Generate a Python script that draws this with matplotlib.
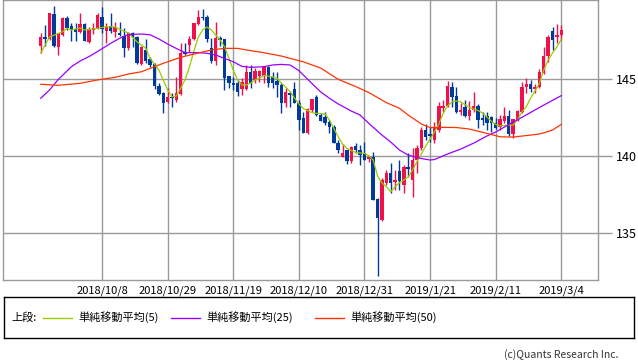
import matplotlib.pyplot as plt
import pandas as pd

plt.rcParams['font.family'] = ['Noto Sans CJK JP', 'DejaVu Sans']

# Daily candles (weekday slots from 2018/9/18 to 2019/3/4)
opens = [147.16, 147.75, 147.58, 149.22, 147.08, 147.86, 148.98, 148.44, 148.23, 148.07,
         148.57, 147.42, 148.18, 148.29, 149.01, 148.14, 148.44, 148.07, 148.01, 147.79,
         146.99, 147.97, 147.75, 145.97, 146.88, 146.28, 145.97, 144.55, 144.07, 143.53,
         143.85, 143.64, 144.03, 146.77, 147.21, 147.58, 148.57, 149.05, 149.01, 146.99,
         146.17, 147.66, 147.60, 145.19, 144.74, 144.74, 144.35, 144.35, 145.45, 144.94,
         145.19, 145.19, 145.78, 145.13, 144.87, 144.61, 143.44, 144.09, 144.35, 143.44,
         142.47, 141.49, 142.99, 143.83, 142.66, 142.53, 142.21, 141.88, 140.84, 139.94,
         140.39, 139.68, 140.65, 140.39, 140.19, 139.81, 139.94, 137.21, 135.84, 138.25,
         138.90, 138.31, 139.03, 138.12, 139.29, 138.44, 139.74, 140.52, 141.69, 141.43,
         141.04, 141.69, 143.12, 143.25, 144.48, 143.90, 142.86, 143.18, 142.60, 142.99,
         143.25, 142.47, 142.60, 142.53, 142.14, 141.88, 142.27, 142.60, 141.43, 142.34,
         142.86, 144.48, 144.68, 144.35, 144.48, 145.39, 146.49, 148.12, 147.73, 147.86]
highs = [147.99, 148.51, 149.31, 149.74, 148.01, 149.05, 149.09, 148.66, 148.62, 149.27,
         148.62, 148.36, 148.66, 149.27, 149.66, 148.62, 149.27, 148.72, 148.72, 148.29,
         148.07, 148.07, 147.79, 147.14, 147.58, 146.45, 146.02, 144.76, 144.18, 144.40,
         144.07, 145.15, 147.32, 147.32, 147.79, 148.66, 149.48, 149.53, 149.16, 147.64,
         148.70, 147.79, 147.60, 145.19, 145.13, 144.94, 145.06, 145.91, 145.91, 145.71,
         145.58, 145.84, 145.84, 145.45, 145.45, 144.74, 144.42, 144.22, 144.81, 143.64,
         142.86, 143.12, 143.70, 143.96, 142.79, 142.86, 142.34, 142.01, 141.04, 140.78,
         140.39, 140.65, 140.84, 140.71, 140.91, 140.00, 140.26, 137.27, 138.57, 139.09,
         139.55, 139.09, 139.74, 139.42, 140.19, 140.52, 140.71, 141.88, 142.08, 141.88,
         142.21, 143.51, 143.64, 144.87, 144.81, 144.48, 143.44, 143.64, 143.57, 144.16,
         143.38, 142.86, 142.86, 142.60, 142.47, 142.66, 143.18, 142.99, 142.40, 142.99,
         144.81, 145.06, 144.94, 144.68, 145.65, 147.08, 147.86, 148.38, 148.57, 148.51]
lows = [146.69, 147.14, 147.53, 147.08, 146.56, 147.79, 148.18, 147.49, 147.49, 148.01,
        147.49, 147.36, 147.90, 148.25, 147.97, 147.34, 147.97, 147.75, 147.79, 146.45,
        146.88, 147.10, 145.97, 145.91, 146.02, 145.80, 144.33, 143.96, 142.77, 143.42,
        143.16, 143.53, 143.96, 146.56, 146.77, 147.53, 148.51, 148.83, 147.42, 146.02,
        145.91, 147.14, 144.29, 144.42, 144.29, 143.90, 143.96, 144.29, 144.42, 144.74,
        144.81, 144.74, 144.48, 144.42, 143.83, 142.79, 143.18, 143.18, 143.44, 141.69,
        141.49, 141.43, 142.86, 142.60, 142.27, 142.01, 141.49, 140.84, 140.19, 139.94,
        139.48, 139.55, 140.19, 139.42, 139.74, 139.61, 137.14, 132.21, 135.78, 138.12,
        137.60, 137.79, 137.79, 137.60, 138.64, 137.34, 138.90, 140.39, 141.04, 140.91,
        140.84, 141.56, 142.86, 143.18, 143.18, 142.79, 142.66, 142.53, 142.34, 142.86,
        141.82, 142.01, 141.69, 141.56, 141.75, 141.69, 142.14, 141.30, 141.17, 142.27,
        142.79, 144.09, 144.16, 144.09, 144.42, 145.32, 146.10, 146.88, 147.34, 147.53]
closes = [147.75, 147.58, 149.27, 147.16, 147.99, 148.98, 148.33, 148.18, 148.07, 148.55,
          147.49, 148.23, 148.29, 149.16, 148.23, 148.40, 148.14, 148.40, 147.86, 146.99,
          148.01, 147.75, 146.02, 147.10, 146.19, 145.91, 144.55, 144.03, 143.46, 143.81,
          143.75, 144.11, 146.67, 146.62, 147.58, 148.62, 149.05, 148.94, 147.58, 146.17,
          147.66, 147.53, 145.06, 144.74, 144.61, 144.16, 144.81, 145.45, 144.74, 145.52,
          145.52, 145.78, 144.74, 144.74, 144.61, 143.44, 144.16, 143.96, 143.44, 142.34,
          141.49, 143.05, 143.70, 142.66, 142.27, 142.14, 141.88, 140.84, 140.39, 140.19,
          139.68, 140.58, 140.39, 140.06, 139.74, 139.94, 137.14, 135.97, 138.44, 138.90,
          138.25, 138.44, 138.38, 139.29, 139.16, 139.74, 140.52, 141.69, 141.23, 141.30,
          141.88, 143.25, 143.25, 144.55, 143.83, 142.86, 142.99, 142.60, 142.99, 143.25,
          142.34, 142.34, 142.14, 142.14, 141.82, 142.40, 142.60, 141.43, 142.40, 142.92,
          144.48, 144.68, 144.35, 144.48, 145.45, 146.49, 147.73, 147.53, 147.86, 148.18]

# Moving averages (slot index, value)
ma5_idx = [0, 2, 5, 6, 7, 9, 10, 13, 15, 17, 18, 20, 22, 24, 25, 27, 28, 29, 30, 31,
           32, 33, 34, 35, 36, 37, 38, 39, 40, 41, 42, 43, 44, 45, 46, 47, 48, 49, 50, 51,
           52, 53, 54, 55, 56, 57, 58, 59, 60, 61, 62, 63, 65, 66, 67, 68, 69, 70, 71, 72,
           74, 75, 76, 77, 78, 79, 80, 81, 82, 84, 85, 86, 87, 88, 89, 90, 91, 92, 93, 94,
           95, 96, 97, 98, 99, 100, 101, 102, 103, 104, 105, 106, 107, 108, 109, 110, 111,
           112, 113, 114, 115, 116, 117, 118, 119]
ma5_val = [146.69, 147.73, 148.07, 148.29, 148.18, 148.31, 148.18, 148.29, 148.40, 148.38,
           148.23, 147.99, 147.42, 146.99, 146.34, 145.58, 144.94, 144.29, 143.85, 143.90,
           144.42, 144.95, 145.80, 146.80, 147.71, 148.18, 148.38, 148.18, 147.86, 147.53,
           147.10, 146.36, 145.58, 144.94, 144.61, 144.61, 144.74, 144.94, 145.05, 145.23,
           145.19, 145.13, 145.05, 144.74, 144.48, 144.18, 143.77, 143.38, 143.10, 142.95,
           142.82, 142.77, 142.73, 142.34, 141.79, 141.25, 140.78, 140.49, 140.36, 140.23,
           140.17, 140.03, 139.74, 138.70, 138.25, 138.01, 137.68, 138.01, 138.25, 138.64,
           139.09, 139.63, 140.13, 140.65, 141.10, 141.56, 142.08, 142.77, 143.25, 143.51,
           143.57, 143.51, 143.34, 143.16, 143.05, 142.95, 142.79, 142.53, 142.27, 142.05,
           141.95, 141.98, 142.01, 142.01, 142.37, 142.86, 143.20, 143.77, 144.22, 144.72,
           145.58, 146.23, 146.69, 147.08, 147.58]
ma25_idx = [0, 2, 4, 7, 9, 11, 13, 16, 18, 20, 23, 25, 27, 29, 31, 33, 36, 38, 40, 42,
            44, 46, 48, 51, 53, 55, 57, 59, 62, 64, 66, 68, 71, 73, 75, 78, 80, 82, 84, 87,
            89, 90, 93, 96, 99, 102, 104, 107, 110, 113, 116, 119]
ma25_val = [143.75, 144.29, 144.97, 145.80, 146.17, 146.45, 146.79, 147.32, 147.64, 147.89,
            147.92, 147.87, 147.60, 147.27, 146.98, 146.71, 146.71, 146.67, 146.56, 146.34,
            146.12, 145.82, 145.76, 145.80, 145.91, 145.95, 145.91, 145.55, 144.71, 144.16,
            143.75, 143.38, 142.92, 142.66, 142.12, 141.36, 140.91, 140.39, 140.06, 139.84,
            139.74, 139.77, 140.13, 140.45, 140.84, 141.30, 141.56, 142.04, 142.51, 142.99,
            143.46, 143.92]
ma50_idx = [0, 4, 9, 13, 17, 20, 23, 25, 28, 32, 35, 39, 42, 45, 48, 51, 55, 60, 64, 68,
            72, 75, 79, 82, 84, 87, 89, 92, 95, 98, 102, 105, 108, 112, 114, 116, 117, 119]
ma50_val = [144.66, 144.59, 144.72, 144.94, 145.11, 145.32, 145.47, 145.69, 146.02, 146.41,
            146.62, 146.88, 146.99, 146.99, 146.84, 146.71, 146.49, 146.12, 145.71, 144.98,
            144.51, 144.12, 143.47, 143.10, 142.66, 142.08, 141.85, 141.86, 141.85, 141.75,
            141.47, 141.25, 141.23, 141.36, 141.43, 141.59, 141.69, 142.05]

tick_labels = ['2018/10/8', '2018/10/29', '2018/11/19', '2018/12/10',
               '2018/12/31', '2019/1/21', '2019/2/11', '2019/3/4']
y_ticks = [135, 140, 145]

dates = pd.bdate_range('2018-09-18', periods=len(closes))
tick_pos = [list(dates).index(pd.Timestamp(t.replace('/', '-'))) for t in tick_labels]

UP = '#f0104a'
DOWN = '#003a9a'
GRID = '#9a9a9a'

fig = plt.figure(figsize=(6.38, 3.62), dpi=100)
ax = fig.add_axes([3 / 638, 1 - 280 / 362, 595 / 638, 280 / 362])

for x in tick_pos:
    ax.axvline(x, color=GRID, lw=1, zorder=0)
for y in y_ticks:
    ax.axhline(y, color=GRID, lw=1, zorder=0)

xs = list(range(len(closes)))
cols = [UP if c >= o else DOWN for o, c in zip(opens, closes)]
ax.vlines(xs, lows, highs, colors=cols, lw=1, zorder=2)
bottoms = [min(o, c) for o, c in zip(opens, closes)]
heights = [max(abs(c - o), 0.05) for o, c in zip(opens, closes)]
ax.bar(xs, heights, bottom=bottoms, width=0.78, color=cols, lw=0, zorder=3)

ax.plot(ma5_idx, ma5_val, color='#99cc00', lw=0.9, zorder=4)
ax.plot(ma25_idx, ma25_val, color='#9900ff', lw=0.9, zorder=4)
ax.plot(ma50_idx, ma50_val, color='#ff3300', lw=0.9, zorder=4)

ax.set_xlim(-8.64, 127.4)
ax.set_ylim(131.95, 150.13)
ax.set_xticks(tick_pos)
ax.set_xticklabels(tick_labels, fontsize=8)
ax.tick_params(axis='x', length=0, pad=4)
ax.yaxis.tick_right()
ax.set_yticks(y_ticks)
ax.set_yticklabels([str(v) for v in y_ticks], fontsize=9)
ax.tick_params(axis='y', length=10, color=GRID, width=1, pad=3)
for s in ax.spines.values():
    s.set_color(GRID)
    s.set_linewidth(1)

# legend box
lax = fig.add_axes([4 / 638, 1 - 338 / 362, 630 / 638, 41 / 362])
lax.set_xlim(0, 630)
lax.set_ylim(0, 41)
lax.set_xticks([])
lax.set_yticks([])
for s in lax.spines.values():
    s.set_color('black')
    s.set_linewidth(1)
lax.text(7, 20.5, '上段:', fontsize=8, va='center')
items = [('#99cc00', '単純移動平均(5)', 39), ('#9900ff', '単純移動平均(25)', 167),
         ('#ff3300', '単純移動平均(50)', 311)]
for color, label, x0 in items:
    lax.plot([x0, x0 + 29], [20.5, 20.5], color=color, lw=1)
    lax.text(x0 + 35, 20.5, label, fontsize=8, va='center')

fig.text(618 / 638, 1 - 355 / 362, '(c)Quants Research Inc.', fontsize=7.5,
         ha='right', va='center', color='#333333')

fig.savefig('out.png', dpi=100)
